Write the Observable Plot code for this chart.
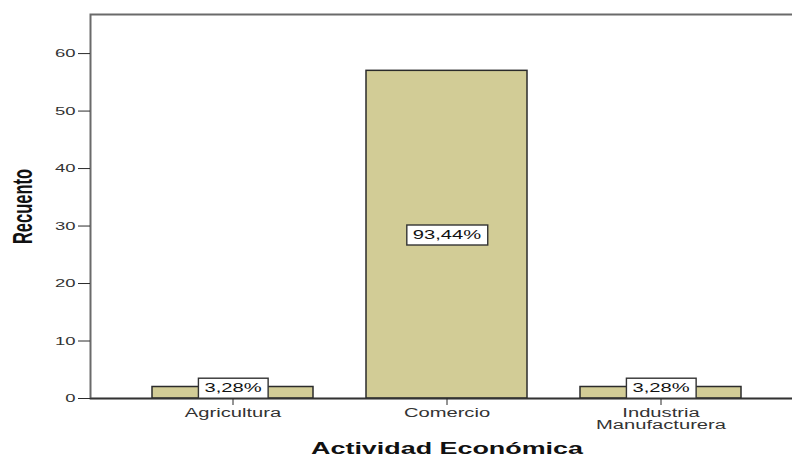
<!DOCTYPE html>
<html><head><meta charset="utf-8">
<script src="https://cdn.jsdelivr.net/npm/d3@7"></script>
<script src="https://cdn.jsdelivr.net/npm/@observablehq/plot@0.6"></script>
<style>body{margin:0;background:#fff;overflow:hidden}</style>
</head><body><div id="chart"></div>
<script>
const categories = ["Agricultura", "Comercio", "Industria Manufacturera"];
const tickLabels = ["Agricultura", "Comercio", "Industria\nManufacturera"];
const counts = [2, 57, 2];
const percentLabels = ["3,28%", "93,44%", "3,28%"];
const yTicks = [0, 10, 20, 30, 40, 50, 60];
const yMax = 66.8;
const xTitle = "Actividad Económica";
const yTitle = "Recuento";

const data = categories.map((c, i) => ({cat: c, n: counts[i], pct: percentLabels[i], ly: Math.max(counts[i] / 2, 1.85)}));
const SX = 1.68; // horizontal stretch of the reference image

const plot = Plot.plot({
  width: 792, height: 459,
  marginLeft: 90, marginRight: -11, marginTop: 14, marginBottom: 61,
  style: {fontFamily: "'Liberation Sans', Arial, sans-serif", fontSize: "11px", background: "#fff", color: "#2a2a2a"},
  x: {domain: categories, paddingInner: 0.25, paddingOuter: 0.29, axis: null},
  y: {domain: [0, yMax], axis: null},
  marks: [
    Plot.frame({stroke: "#6a6a6a", strokeWidth: 2}),
    Plot.barY(data, {x: "cat", y: "n", fill: "#d2cc96", stroke: "#2b2b2b", strokeWidth: 1.5}),
    Plot.ruleY([0], {stroke: "#333", strokeWidth: 1.5}),
    Plot.axisY({ticks: yTicks, tickSize: 12, tickPadding: 3, fontSize: 11, fill: "#333", label: null}),
    Plot.axisX({tickSize: 7, tickPadding: 3, fontSize: 12, lineHeight: 1.0, fill: "#333", label: null,
      tickFormat: d => tickLabels[categories.indexOf(d)]}),
    Plot.text(data, {x: "cat", y: "ly", text: "pct", fontSize: 12, fill: "#111"}),
    Plot.text([xTitle], {frameAnchor: "bottom", dy: 55, fontSize: 16, fontWeight: "bold", fill: "#111"}),
    Plot.text([yTitle], {frameAnchor: "left", dx: -67, rotate: -90, textAnchor: "middle", fontSize: 16.5, fontWeight: "bold", fill: "#111"})
  ]
});
document.getElementById("chart").append(plot);

plot.querySelectorAll("text").forEach(t => {
  const content = t.textContent;
  if (content === yTitle) {
    const tr = t.getAttribute("transform") || "";
    t.setAttribute("transform", tr + ` scale(1,${SX})`);
    return;
  }
  const spans = t.querySelectorAll("tspan");
  const els = spans.length ? Array.from(spans) : [t];
  els.forEach(el => {
    const len = el.getComputedTextLength();
    el.setAttribute("textLength", (len * SX).toFixed(2));
    el.setAttribute("lengthAdjust", "spacingAndGlyphs");
  });
});

plot.querySelectorAll("text").forEach(t => {
  if (!percentLabels.includes(t.textContent)) return;
  const bb = t.getBBox();
  const padX = 6, h = 20;
  const cy = bb.y + bb.height / 2 + 0.5;
  const r = document.createElementNS("http://www.w3.org/2000/svg", "rect");
  r.setAttribute("x", bb.x - padX);
  r.setAttribute("y", cy - h / 2);
  r.setAttribute("width", bb.width + 2 * padX);
  r.setAttribute("height", h);
  r.setAttribute("fill", "#fff");
  r.setAttribute("stroke", "#333");
  r.setAttribute("stroke-width", 1.4);
  const tr = t.getAttribute("transform");
  if (tr) r.setAttribute("transform", tr);
  t.parentNode.insertBefore(r, t);
});
</script>
</body></html>
